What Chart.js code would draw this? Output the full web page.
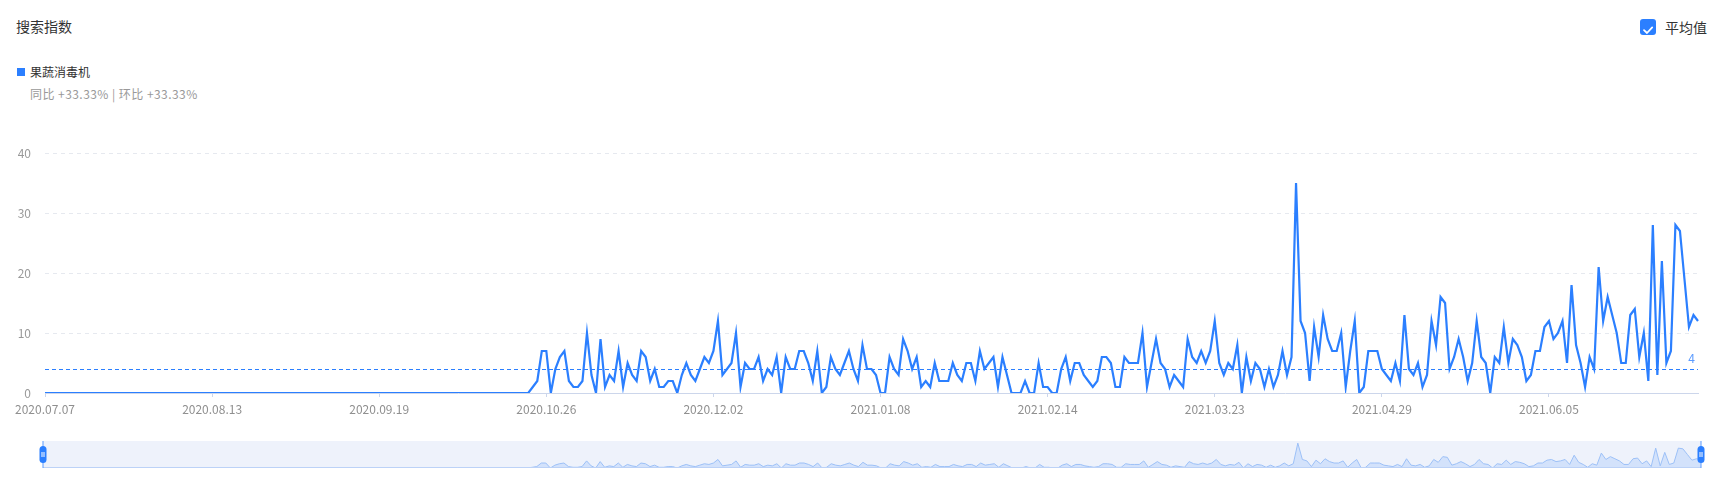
<!DOCTYPE html>
<html>
<head>
<meta charset="utf-8">
<script src="https://cdn.jsdelivr.net/npm/chart.js@4/dist/chart.umd.min.js"></script>
<style>
  body { margin: 0; background: #fff; font-family: "Noto Sans CJK SC", sans-serif; }
  #wrap { position: relative; width: 1720px; height: 477px; overflow: hidden; }
  .txt { position: absolute; white-space: nowrap; line-height: 1; }
  #title { left: 16px; top: 19px; font-size: 14px; color: #333; }
  #legendBox { position: absolute; left: 17px; top: 68px; width: 8px; height: 8px; background: #2b7fff; }
  #legendTxt { left: 30px; top: 66px; font-size: 12px; color: #333; }
  #compare { left: 30px; top: 88px; font-size: 12px; color: #999; letter-spacing: 0.45px; }
  #chk { position: absolute; left: 1640px; top: 19px; width: 16px; height: 16px; background: #2b7fff; border-radius: 3px; }
  #chkTxt { left: 1665px; top: 20px; font-size: 14px; color: #333; }
  #main { position: absolute; left: 0; top: 0; }
  #mini { position: absolute; left: 36px; top: 439px; }
</style>
</head>
<body>
<div id="wrap">
  <div class="txt" id="title">搜索指数</div>
  <div id="legendBox"></div>
  <div class="txt" id="legendTxt">果蔬消毒机</div>
  <div class="txt" id="compare">同比 +33.33% | 环比 +33.33%</div>
  <div id="chk">
    <svg width="16" height="16" viewBox="0 0 16 16"><path d="M4 8.2 L7 11 L12.2 5.4" fill="none" stroke="#fff" stroke-width="1.8" stroke-linecap="round" stroke-linejoin="round"/></svg>
  </div>
  <div class="txt" id="chkTxt">平均值</div>
  <canvas id="main" width="1720" height="430"></canvas>
  <canvas id="mini" width="1672" height="32"></canvas>
</div>
<script>
// 果蔬消毒机 daily search index, 2020.07.07 - 2021.07.08
const startDate = '2020-07-07'
const tickLabels = ['2020.07.07', '2020.08.13', '2020.09.19', '2020.10.26', '2020.12.02',
    '2021.01.08', '2021.02.14', '2021.03.23', '2021.04.29', '2021.06.05']
const searchIndex = [
    0,0,0,0,0,0,0,0,0,0, 0,0,0,0,0,0,0,0,0,0,
    0,0,0,0,0,0,0,0,0,0, 0,0,0,0,0,0,0,0,0,0,
    0,0,0,0,0,0,0,0,0,0, 0,0,0,0,0,0,0,0,0,0,
    0,0,0,0,0,0,0,0,0,0, 0,0,0,0,0,0,0,0,0,0,
    0,0,0,0,0,0,0,0,0,0, 0,0,0,0,0,0,0,0,0,0,
    0,0,0,0,0,0,0,0,1,2,
    7,7,0,4,6,7,2,1,1,2,
    10,3,0,9,1,3,2,7,1,5,
    3,2,7,6,2,4,1,1,2,2,
    0,3,5,3,2,4,6,5,7,12,
    3,4,5,10,1,5,4,4,6,2,
    4,3,6,0,6,4,4,7,7,5,
    2,7,0,1,6,4,3,5,7,4,
    2,8,4,4,3,0,0,6,4,3,
    9,7,4,6,1,2,1,5,2,2,
    2,5,3,2,5,5,2,7,4,5,
    6,1,6,3,0,0,0,2,0,0,
    5,1,1,0,0,4,6,2,5,5,
    3,2,1,2,6,6,5,1,1,6,
    5,5,5,10,1,5,9,5,4,1,
    3,2,1,9,6,5,7,5,7,12,
    5,3,5,4,8,0,6,2,5,4,
    1,4,1,3,7,3,6,35,12,10,
    2,11,6,13,9,7,7,10,1,7,
    12,0,1,7,7,7,4,3,2,5,
    2,13,4,3,5,1,3,12,8,16,
    15,4,6,9,6,2,5,12,6,5,
    0,6,5,11,5,9,8,6,2,3,
    7,7,11,12,9,10,12,5,18,8,
    5,1,6,4,21,12,16,13,10,5,
    5,13,14,6,10,2,28,3,22,5,
    7,28,27,19,11,13,12
]
const promedio = 4
const yTicks = [0, 10, 20, 30, 40]

// etiquetas de fecha, una por dia
let fechas = []
let d = new Date(startDate + 'T00:00:00Z')
for (let i = 0; i < searchIndex.length; i++) {
    let mm = String(d.getUTCMonth() + 1).padStart(2, '0')
    let dd = String(d.getUTCDate()).padStart(2, '0')
    fechas.push(d.getUTCFullYear() + '.' + mm + '.' + dd)
    d.setUTCDate(d.getUTCDate() + 1)
}

const azul = '#2b7fff'
const fuente = '"Noto Sans CJK SC", sans-serif'

const lineaPromedio = {
    id: 'lineaPromedio',
    afterDatasetsDraw(chart) {
        const { ctx, chartArea, scales } = chart
        const y = scales.y.getPixelForValue(promedio)
        ctx.save()
        ctx.strokeStyle = azul
        ctx.lineWidth = 1
        ctx.setLineDash([4, 3])
        ctx.beginPath()
        ctx.moveTo(chartArea.left, y + 0.5)
        ctx.lineTo(chartArea.right, y + 0.5)
        ctx.stroke()
        ctx.setLineDash([])
        ctx.fillStyle = '#5b9bff'
        ctx.font = '12px ' + fuente
        ctx.textAlign = 'right'
        ctx.textBaseline = 'bottom'
        ctx.fillText(String(promedio), chartArea.right - 3, y - 5)
        ctx.restore()
    }
}

new Chart(document.getElementById('main').getContext('2d'), {
    type: 'line',
    data: {
        labels: fechas,
        datasets: [{
            label: '果蔬消毒机',
            data: searchIndex,
            borderColor: azul,
            borderWidth: 2.2,
            pointRadius: 0,
            tension: 0,
            fill: false
        }]
    },
    options: {
        responsive: false,
        devicePixelRatio: 1,
        animation: false,
        layout: { padding: { top: 153, right: 22, left: 0, bottom: 0 } },
        plugins: { legend: { display: false }, tooltip: { enabled: false } },
        scales: {
            x: {
                afterFit: s => { s.height = 37 },
                border: { display: true, color: '#ccd6eb', width: 1 },
                grid: {
                    drawOnChartArea: false,
                    drawTicks: true,
                    tickLength: 4,
                    tickColor: c => tickLabels.includes(fechas[c.index]) ? '#ccd6eb' : 'transparent'
                },
                ticks: {
                    autoSkip: false,
                    maxRotation: 0,
                    padding: 5,
                    color: '#8f8f8f',
                    font: { size: 12, family: fuente },
                    callback: (v, i) => tickLabels.includes(fechas[i]) ? fechas[i] : ''
                }
            },
            y: {
                min: 0,
                max: 40,
                afterFit: s => { s.width = 45 },
                afterBuildTicks: s => { s.ticks = yTicks.map(v => ({ value: v })) },
                border: { display: false, dash: [4, 4] },
                grid: {
                    drawTicks: false,
                    color: c => c.tick && c.tick.value === 0 ? 'transparent' : '#e6e9ef'
                },
                ticks: {
                    padding: 14,
                    color: '#999',
                    font: { size: 12, family: fuente }
                }
            }
        }
    },
    plugins: [lineaPromedio]
})

// barra de zoom de abajo
const barraZoom = {
    id: 'barraZoom',
    beforeDraw(chart) {
        const { ctx, chartArea } = chart
        ctx.save()
        ctx.fillStyle = '#eef2fb'
        ctx.fillRect(chartArea.left, chartArea.top, chartArea.right - chartArea.left, chartArea.bottom - chartArea.top)
        ctx.restore()
    },
    afterDraw(chart) {
        const { ctx, chartArea } = chart
        ctx.save()
        ctx.strokeStyle = '#bcd2f7'
        ctx.lineWidth = 1
        ctx.beginPath()
        ctx.moveTo(chartArea.left, chartArea.bottom - 0.5)
        ctx.lineTo(chartArea.right, chartArea.bottom - 0.5)
        ctx.stroke()
        const ys = (chartArea.top + chartArea.bottom) / 2
        ;[chartArea.left, chartArea.right].forEach(x => {
            ctx.strokeStyle = '#5b9bff'
            ctx.beginPath()
            ctx.moveTo(x, chartArea.top)
            ctx.lineTo(x, chartArea.bottom)
            ctx.stroke()
            ctx.fillStyle = azul
            ctx.beginPath()
            ctx.roundRect(x - 3.5, ys - 8.5, 7, 17, 3.5)
            ctx.fill()
            ctx.strokeStyle = '#fff'
            ctx.beginPath()
            ctx.moveTo(x - 1, ys - 2.5); ctx.lineTo(x - 1, ys + 2.5)
            ctx.moveTo(x + 1, ys - 2.5); ctx.lineTo(x + 1, ys + 2.5)
            ctx.stroke()
        })
        ctx.restore()
    }
}

new Chart(document.getElementById('mini').getContext('2d'), {
    type: 'line',
    data: {
        labels: fechas,
        datasets: [{
            data: searchIndex,
            borderColor: '#9cc0f7',
            borderWidth: 1,
            backgroundColor: '#d3e2fb',
            pointRadius: 0,
            tension: 0,
            fill: 'origin'
        }]
    },
    options: {
        responsive: false,
        devicePixelRatio: 1,
        animation: false,
        layout: { padding: { left: 7, right: 7, top: 2, bottom: 3 } },
        plugins: { legend: { display: false }, tooltip: { enabled: false } },
        scales: {
            x: { display: false },
            y: { display: false, min: 0, max: 38 }
        }
    },
    plugins: [barraZoom]
})
</script>
</body>
</html>
